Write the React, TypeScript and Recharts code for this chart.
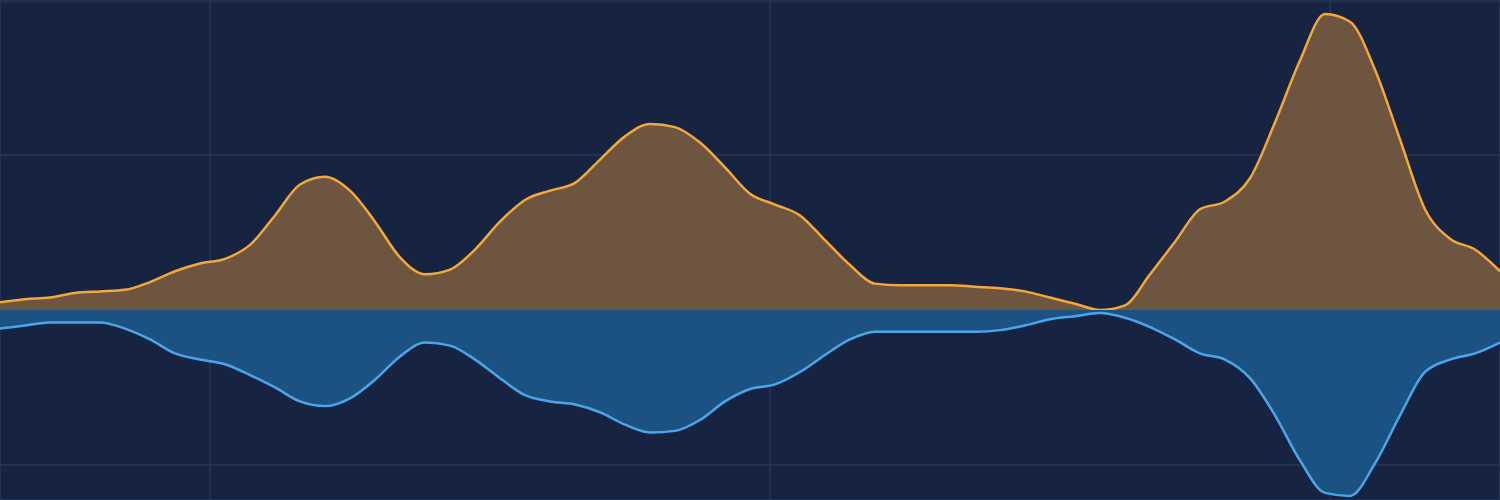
import React from 'react';
import { AreaChart, Area, XAxis, YAxis, CartesianGrid } from 'recharts';

// sample index, one step every 1/60 of the visible range
const steps: number[] = Array.from({ length: 61 }, (_, i) => i);

const upper: number[] = [
  0.05, 0.07, 0.08, 0.11, 0.12, 0.13, 0.18, 0.25, 0.3, 0.33,
  0.42, 0.61, 0.81, 0.86, 0.77, 0.57, 0.34, 0.23, 0.26, 0.39,
  0.57, 0.71, 0.77, 0.82, 0.97, 1.12, 1.2, 1.18, 1.08, 0.92,
  0.75, 0.68, 0.61, 0.45, 0.29, 0.17, 0.16, 0.16, 0.16, 0.15,
  0.14, 0.12, 0.08, 0.04, 0.0, 0.03, 0.23, 0.44, 0.65, 0.7,
  0.85, 1.21, 1.61, 1.91, 1.86, 1.55, 1.1, 0.65, 0.46, 0.39,
  0.25,
];

const lower: number[] = [
  -0.12, -0.1, -0.08, -0.08, -0.08, -0.12, -0.19, -0.28, -0.32, -0.35,
  -0.42, -0.5, -0.59, -0.62, -0.57, -0.45, -0.3, -0.21, -0.23, -0.32,
  -0.44, -0.55, -0.59, -0.61, -0.66, -0.74, -0.79, -0.78, -0.71, -0.59,
  -0.51, -0.48, -0.4, -0.29, -0.19, -0.14, -0.14, -0.14, -0.14, -0.14,
  -0.13, -0.1, -0.06, -0.04, -0.02, -0.05, -0.11, -0.19, -0.28, -0.32,
  -0.44, -0.68, -0.97, -1.18, -1.2, -0.99, -0.68, -0.4, -0.32, -0.28,
  -0.21,
];

const xTicks: number[] = [8.4, 30.8, 53.2];
const yTicks: number[] = [-1, 0, 1, 1.99];

const data = steps.map((t, i) => ({ t, upper: upper[i], lower: lower[i] }));

export default function App() {
  return (
    <div style={{ position: 'fixed', top: 0, left: 0, width: 1500, height: 500, background: '#172441' }}>
      <AreaChart width={1500} height={500} data={data} margin={{ top: 0, right: 0, bottom: 0, left: 0 }}>
        <CartesianGrid stroke="#223151" strokeWidth={2} />
        <XAxis dataKey="t" type="number" domain={[0, 60]} ticks={xTicks} hide />
        <YAxis type="number" domain={[-1.226, 2]} ticks={yTicks} allowDataOverflow hide />
        <Area
          type="monotone"
          dataKey="upper"
          baseValue={0}
          stroke="#f2a83a"
          strokeWidth={2.5}
          fill="#6e5540"
          fillOpacity={1}
          dot={false}
          activeDot={false}
          isAnimationActive={false}
        />
        <Area
          type="monotone"
          dataKey="lower"
          baseValue={0}
          stroke="#4aa6ea"
          strokeWidth={2.5}
          fill="#1c5282"
          fillOpacity={1}
          dot={false}
          activeDot={false}
          isAnimationActive={false}
        />
      </AreaChart>
    </div>
  );
}
